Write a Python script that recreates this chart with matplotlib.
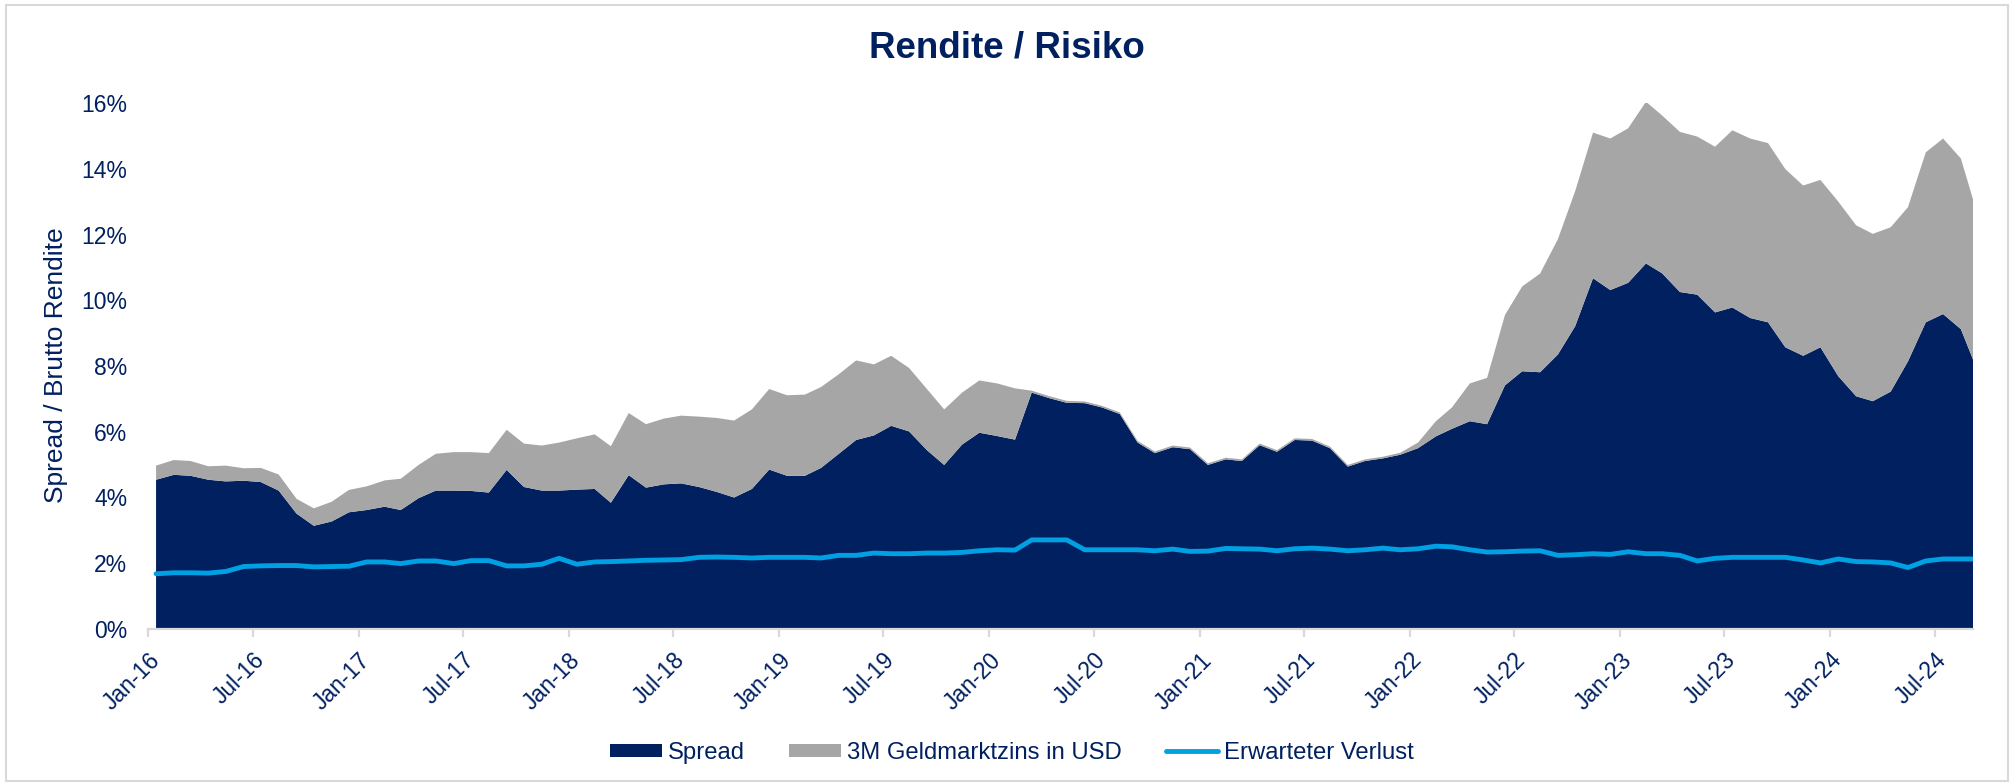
import matplotlib
matplotlib.use("Agg")
import matplotlib.pyplot as plt
import matplotlib.dates as mdates
from matplotlib.patches import Rectangle
import pandas as pd

# monthly values in %, Jan-16 .. Aug-24 plus latest point (early Sep-24)
spread = [4.54, 4.69, 4.66, 4.54, 4.49, 4.51, 4.47, 4.21, 3.51, 3.14, 3.27, 3.55,
          3.62, 3.72, 3.62, 3.98, 4.21, 4.21, 4.20, 4.15, 4.84, 4.32, 4.21, 4.21,
          4.24, 4.26, 3.84, 4.68, 4.30, 4.40, 4.43, 4.32, 4.17, 4.00, 4.26, 4.85,
          4.66, 4.66, 4.90, 5.33, 5.75, 5.89, 6.18, 6.01, 5.44, 4.99, 5.61, 5.97,
          5.87, 5.76, 7.19, 7.02, 6.88, 6.87, 6.74, 6.54, 5.67, 5.35, 5.53, 5.47,
          4.99, 5.16, 5.11, 5.59, 5.39, 5.75, 5.73, 5.50, 4.94, 5.11, 5.19, 5.30,
          5.50, 5.86, 6.09, 6.32, 6.23, 7.41, 7.84, 7.81, 8.35, 9.21, 10.67, 10.31,
          10.53, 11.12, 10.82, 10.25, 10.17, 9.63, 9.78, 9.46, 9.33, 8.57, 8.31, 8.57,
          7.69, 7.08, 6.93, 7.22, 8.14, 9.33, 9.58, 9.12, 8.20]

usd_3m = [0.43, 0.45, 0.45, 0.41, 0.48, 0.38, 0.43, 0.49, 0.45, 0.53, 0.60, 0.68,
          0.72, 0.80, 0.95, 1.01, 1.12, 1.17, 1.18, 1.20, 1.22, 1.32, 1.37, 1.46,
          1.56, 1.66, 1.72, 1.89, 1.93, 2.00, 2.06, 2.14, 2.25, 2.34, 2.42, 2.45,
          2.45, 2.47, 2.46, 2.42, 2.42, 2.16, 2.13, 1.93, 1.86, 1.69, 1.58, 1.59,
          1.60, 1.56, 0.06, 0.06, 0.06, 0.05, 0.05, 0.05, 0.05, 0.05, 0.05, 0.05,
          0.05, 0.05, 0.05, 0.05, 0.05, 0.05, 0.05, 0.05, 0.05, 0.05, 0.05, 0.06,
          0.17, 0.46, 0.65, 1.15, 1.41, 2.14, 2.58, 3.00, 3.51, 4.11, 4.43, 4.61,
          4.70, 4.92, 4.80, 4.87, 4.81, 5.04, 5.39, 5.46, 5.45, 5.42, 5.18, 5.09,
          5.31, 5.20, 5.09, 5.00, 4.69, 5.17, 5.34, 5.19, 4.87]

expected_loss = [1.68, 1.71, 1.71, 1.70, 1.75, 1.90, 1.92, 1.93, 1.93, 1.89, 1.90, 1.91,
                 2.04, 2.04, 1.99, 2.07, 2.07, 1.99, 2.08, 2.08, 1.92, 1.92, 1.97, 2.15,
                 1.97, 2.04, 2.05, 2.07, 2.09, 2.10, 2.11, 2.18, 2.19, 2.18, 2.16, 2.18,
                 2.18, 2.18, 2.16, 2.24, 2.24, 2.31, 2.29, 2.29, 2.31, 2.31, 2.33, 2.38,
                 2.41, 2.40, 2.71, 2.71, 2.71, 2.41, 2.41, 2.41, 2.41, 2.38, 2.43, 2.36,
                 2.37, 2.45, 2.44, 2.43, 2.38, 2.44, 2.46, 2.43, 2.38, 2.41, 2.46, 2.41,
                 2.44, 2.52, 2.50, 2.41, 2.34, 2.35, 2.37, 2.38, 2.24, 2.26, 2.29, 2.27,
                 2.35, 2.29, 2.29, 2.24, 2.07, 2.15, 2.18, 2.18, 2.18, 2.18, 2.10, 2.01,
                 2.13, 2.05, 2.04, 2.01, 1.87, 2.07, 2.13, 2.13, 2.13]

dates = list(pd.date_range("2016-01-15", periods=104, freq=pd.DateOffset(months=1)))
dates.append(pd.Timestamp("2024-09-05"))

NAVY = "#002060"
GREY = "#A6A6A6"
CYAN = "#00A0E3"
LIGHT = "#D9D9D9"

plt.rcParams["font.family"] = ["Liberation Sans", "DejaVu Sans"]


def main():
    fig = plt.figure(figsize=(20.14, 7.84), dpi=100)
    ax = fig.add_axes([148 / 2014, 1 - 629 / 784, 1825 / 2014, 526 / 784])

    ax.stackplot(dates, spread, usd_3m, colors=[NAVY, GREY],
                 labels=["Spread", "3M Geldmarktzins in USD"], linewidth=0)
    ax.plot(dates, expected_loss, color=CYAN, lw=3.5, solid_capstyle="round",
            label="Erwarteter Verlust")

    ax.set_xlim(pd.Timestamp("2016-01-01"), pd.Timestamp("2024-09-05"))
    ax.set_ylim(0, 16)
    ax.set_yticks(range(0, 17, 2))
    ax.set_yticklabels([f"{v}%" for v in range(0, 17, 2)])

    ax.xaxis.set_major_locator(mdates.MonthLocator(bymonth=[1, 7]))
    ax.xaxis.set_major_formatter(mdates.DateFormatter("%b-%y"))

    for s in ["top", "right", "left"]:
        ax.spines[s].set_visible(False)
    ax.spines["bottom"].set_color(LIGHT)
    ax.spines["bottom"].set_linewidth(1.6)

    ax.tick_params(axis="y", length=0, pad=15, labelsize=16.5, labelcolor=NAVY)
    ax.tick_params(axis="x", length=6, width=1.6, color=LIGHT, pad=8,
                   labelsize=16.5, labelcolor=NAVY)
    plt.setp(ax.get_xticklabels(), rotation=45, ha="right", va="top",
             rotation_mode="anchor")

    fig.text(56 / 2014, 1 - 365 / 784, "Spread / Brutto Rendite", rotation=90,
             ha="center", va="center", fontsize=19, color=NAVY)
    fig.text(0.5, 1 - 48 / 784, "Rendite / Risiko", ha="center", va="center",
             fontsize=26.5, fontweight="bold", color=NAVY)

    handles, labels = ax.get_legend_handles_labels()
    fig.legend(handles, labels, loc="center", bbox_to_anchor=(1012 / 2014, 1 - 753 / 784),
               ncol=3, frameon=False, fontsize=17.2, labelcolor=NAVY,
               handlelength=2.17, handleheight=0.5, handletextpad=0.25, columnspacing=1.85)

    fig.patches.append(Rectangle((0.003, 0.004), 0.994, 0.99, transform=fig.transFigure,
                                 fill=False, edgecolor=LIGHT, lw=1.5))

    fig.savefig("out.png", dpi=100)
    plt.close(fig)


if __name__ == "__main__":
    main()
